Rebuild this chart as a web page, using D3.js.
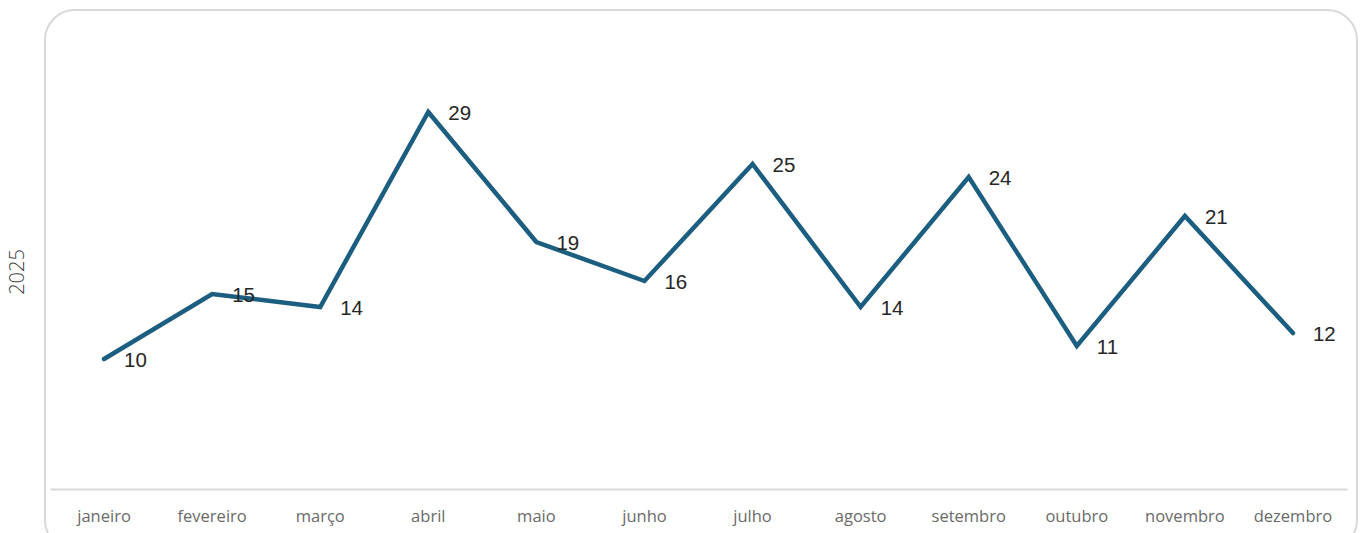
<!DOCTYPE html>
<html><head><meta charset="utf-8">
<script src="https://cdn.jsdelivr.net/npm/d3@7"></script>
<style>html,body{margin:0;padding:0;background:#fff;}svg{display:block;}</style>
</head><body>
<svg id="chart" width="1371" height="533"></svg>
<script>
const months = ["janeiro","fevereiro","março","abril","maio","junho","julho","agosto","setembro","outubro","novembro","dezembro"];
const values = [10,15,14,29,19,16,25,14,24,11,21,12];
const seriesName = "2025";

const svg = d3.select("#chart");
// frame
svg.append("rect").attr("x",45).attr("y",10).attr("width",1312).attr("height",540)
  .attr("rx",30).attr("ry",30).attr("fill","#fff").attr("stroke","#d9d9d9").attr("stroke-width",2);

const x = d3.scaleBand().domain(months).range([50,1347]);
const y = d3.scaleLinear().domain([0,35]).range([489,34]);

// baseline axis
const xAxis = svg.append("g").attr("transform","translate(0,489)")
  .call(d3.axisBottom(x).tickSize(0).tickPadding(21));
xAxis.select(".domain").attr("stroke","#d9d9d9").attr("stroke-width",2);
xAxis.selectAll("text").attr("font-family","'Open Sans', Lato, sans-serif")
  .attr("font-size",16.5).attr("fill","#6a6a6a");

const cx = d => x(d) + x.bandwidth()/2;
const data = months.map((m,i)=>({m, v: values[i]}));

svg.append("path").datum(data)
  .attr("fill","none").attr("stroke","#1b5e80").attr("stroke-width",4.5)
  .attr("stroke-linejoin","miter").attr("stroke-linecap","round")
  .attr("d", d3.line().x(d=>cx(d.m)).y(d=>y(d.v)));

svg.append("g").selectAll("text").data(data).join("text")
  .attr("x", d=>cx(d.m)+20).attr("y", d=>y(d.v)+8)
  .attr("font-family","'Liberation Sans', Arial, sans-serif").attr("font-size",20.5)
  .attr("fill","#262626").text(d=>d.v);

svg.append("text").attr("transform","translate(24,272) rotate(-90)")
  .attr("text-anchor","middle").attr("font-family","'Open Sans', sans-serif")
  .attr("font-weight",300).attr("font-size",20).attr("fill","#404040").text(seriesName);
</script>
</body></html>
